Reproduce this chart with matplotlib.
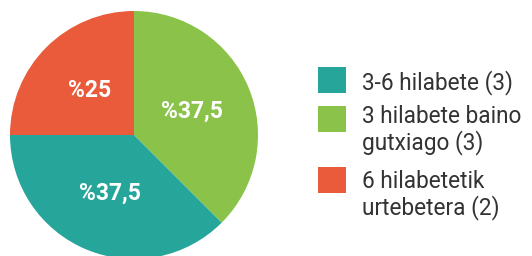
import matplotlib.pyplot as plt
from matplotlib.patches import Rectangle

# pie order (clockwise from top)
pie_names = ["3 hilabete baino gutxiago", "3-6 hilabete", "6 hilabetetik urtebetera"]
pie_counts = [3, 3, 2]
pie_colors = ["#8BC34A", "#26A69A", "#E95B3B"]

# legend order
legend_labels = ["3-6 hilabete (3)", "3 hilabete baino\ngutxiago (3)", "6 hilabetetik\nurtebetera (2)"]
legend_colors = ["#26A69A", "#8BC34A", "#E95B3B"]

plt.rcParams['font.family'] = ['Roboto', 'DejaVu Sans']

W, H = 532, 256
fig = plt.figure(figsize=(W / 100, H / 100), dpi=100)
fig.patch.set_facecolor("white")

cx, cy, r = 134, 135, 124
ax = fig.add_axes([(cx - r) / W, (H - cy - r) / H, 2 * r / W, 2 * r / H])


def fmt(p):
    s = f"{p:.1f}".replace(".", ",")
    if s.endswith(",0"):
        s = s[:-2]
    return "%" + s


wedges, texts, autotexts = ax.pie(pie_counts, colors=pie_colors, startangle=90, counterclock=False,
                                  autopct=fmt, pctdistance=0.51, radius=1,
                                  wedgeprops=dict(linewidth=0))
for t in autotexts:
    t.set_color("white")
    t.set_fontsize(16.5)
    t.set_fontweight("bold")
ax.set_xlim(-1, 1)
ax.set_ylim(-1, 1)
ax.set_aspect("equal")
ax.axis("off")

# legend drawn by hand, one text per line so baselines can be set
sw_x, sw_w, sw_h = 318, 28, 26
sw_tops = [67, 106, 167]
baselines = [89, 123, 188]
line_step = 26
for lab, col, top, bl in zip(legend_labels, legend_colors, sw_tops, baselines):
    fig.patches.append(Rectangle((sw_x / W, (H - top - sw_h) / H), sw_w / W, sw_h / H,
                                 transform=fig.transFigure, facecolor=col, edgecolor="none"))
    for i, line in enumerate(lab.split("\n")):
        fig.text(362 / W, (H - bl - i * line_step) / H, line, ha="left", va="baseline",
                 fontsize=16.3, color="#333333")

fig.savefig("out.png", dpi=100, facecolor="white")
